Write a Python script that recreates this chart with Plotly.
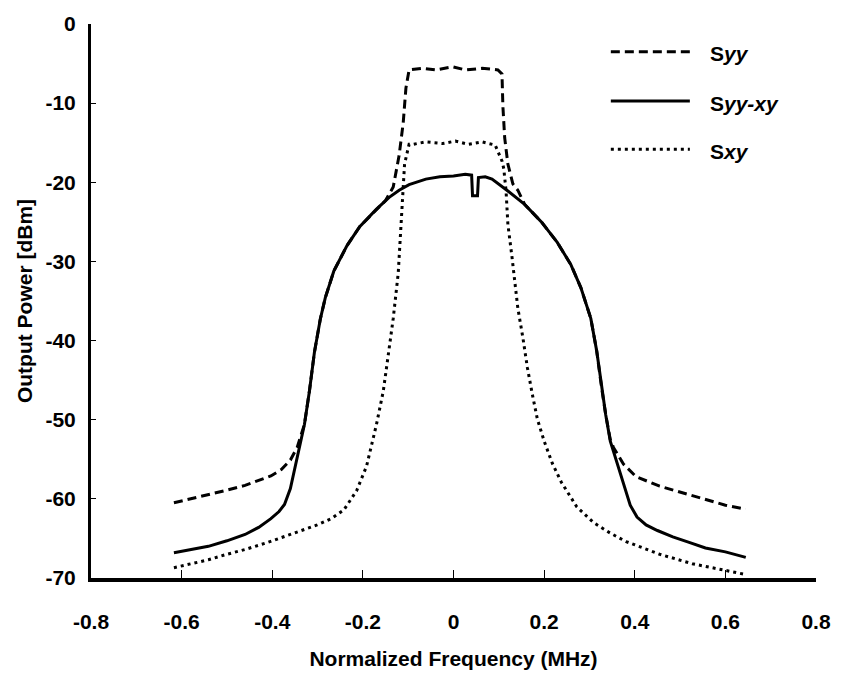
import plotly.graph_objects as go

# ---- spectra (normalized frequency in MHz, power in dBm) ----
syy_f = [-0.617, -0.58, -0.541, -0.50, -0.460, -0.43, -0.403, -0.38, -0.36, -0.345,
         -0.329, -0.318, -0.307, -0.294, -0.283, -0.264, -0.235, -0.207, -0.170, -0.150,
         -0.133, -0.120, -0.111, -0.105, -0.098, -0.068, -0.039, -0.002, 0.026, 0.063,
         0.098, 0.107, 0.109, 0.113, 0.120, 0.131, 0.142, 0.157, 0.194, 0.229,
         0.259, 0.281, 0.303, 0.316, 0.327, 0.336, 0.346, 0.353, 0.375, 0.403,
         0.455, 0.527, 0.600, 0.645]
syy_p = [-60.5, -60.0, -59.5, -58.9, -58.3, -57.7, -57.1, -56.3, -55.1, -53.5,
         -50.6, -46.4, -41.5, -37.3, -34.6, -31.2, -28.0, -25.6, -23.4, -22.3,
         -20.6, -16.6, -12.5, -8.1, -5.8, -5.6, -5.8, -5.4, -5.8, -5.6,
         -5.8, -6.3, -10.4, -14.4, -17.7, -20.2, -21.0, -22.8, -25.0, -27.6,
         -30.4, -33.3, -37.2, -41.3, -46.0, -49.4, -52.5, -53.5, -55.6, -57.2,
         -58.4, -59.6, -60.8, -61.3]

syyxy_f = [-0.617, -0.58, -0.541, -0.50, -0.460, -0.43, -0.403, -0.385, -0.373, -0.360,
           -0.345, -0.329, -0.318, -0.307, -0.294, -0.283, -0.264, -0.235, -0.207, -0.170,
           -0.142, -0.12, -0.098, -0.061, -0.03, 0.0, 0.026, 0.040, 0.042, 0.053,
           0.055, 0.07, 0.085, 0.10, 0.120, 0.157, 0.194, 0.229, 0.259, 0.281,
           0.303, 0.316, 0.327, 0.336, 0.346, 0.368, 0.390, 0.405, 0.425, 0.45,
           0.484, 0.52, 0.556, 0.60, 0.645]
syyxy_p = [-66.8, -66.4, -66.0, -65.3, -64.5, -63.6, -62.5, -61.6, -60.7, -58.7,
           -54.7, -50.6, -46.4, -41.5, -37.3, -34.6, -31.2, -28.0, -25.6, -23.4,
           -21.9, -21.0, -20.3, -19.6, -19.3, -19.2, -19.0, -19.1, -21.7, -21.7,
           -19.4, -19.3, -19.6, -20.2, -21.1, -22.8, -25.0, -27.6, -30.4, -33.3,
           -37.2, -41.3, -46.0, -49.4, -52.7, -56.6, -60.8, -62.3, -63.3, -64.0,
           -64.8, -65.5, -66.2, -66.7, -67.4]

sxy_f = [-0.617, -0.58, -0.541, -0.50, -0.460, -0.41, -0.360, -0.301, -0.27, -0.242,
         -0.214, -0.192, -0.170, -0.155, -0.148, -0.133, -0.122, -0.116, -0.111, -0.108,
         -0.098, -0.089, -0.061, -0.024, 0.004, 0.033, 0.063, 0.092, 0.107, 0.111,
         0.116, 0.120, 0.129, 0.135, 0.142, 0.153, 0.163, 0.174, 0.185, 0.200,
         0.218, 0.238, 0.272, 0.309, 0.345, 0.381, 0.455, 0.527, 0.58, 0.640]
sxy_p = [-68.7, -68.2, -67.7, -67.0, -66.4, -65.5, -64.5, -63.3, -62.5, -61.4,
         -59.0, -55.9, -50.6, -46.4, -43.5, -37.2, -31.5, -26.1, -21.1, -17.7,
         -15.2, -15.2, -14.9, -15.1, -14.8, -15.2, -14.9, -15.3, -17.3, -18.3,
         -21.1, -25.3, -29.4, -32.7, -35.9, -39.6, -43.4, -46.8, -49.9, -52.7,
         -55.5, -57.9, -61.0, -63.0, -64.3, -65.4, -67.0, -68.2, -68.8, -69.5]

x_ticks = [-0.8, -0.6, -0.4, -0.2, 0, 0.2, 0.4, 0.6, 0.8]
x_tick_text = ["-0.8", "-0.6", "-0.4", "-0.2", "0", "0.2", "0.4", "0.6", "0.8"]
y_ticks = [0, -10, -20, -30, -40, -50, -60, -70]
y_tick_text = ["0", "-10", "-20", "-30", "-40", "-50", "-60", "-70"]

series_names = ["S<i>yy</i>", "S<i>yy-xy</i>", "S<i>xy</i>"]

FONT = "Liberation Sans, Arial, sans-serif"
FSIZE = 21
DASHES = ["9px,5px", "solid", "3px,4px"]

fig = go.Figure()
for (fx, py), dash in zip([(syy_f, syy_p), (syyxy_f, syyxy_p), (sxy_f, sxy_p)], DASHES):
    fig.add_trace(go.Scatter(
        x=fx, y=py, mode="lines", showlegend=False,
        line=dict(color="black", width=3, dash=dash),
    ))

# legend: line samples plus labels, placed in the upper right of the plot area
legend_rows = [0.950, 0.861, 0.774]
for name, dash, ry in zip(series_names, DASHES, legend_rows):
    fig.add_shape(type="line", xref="paper", yref="paper",
                  x0=0.717, x1=0.826, y0=ry, y1=ry,
                  line=dict(color="black", width=3, dash=dash))
    fig.add_annotation(xref="paper", yref="paper", x=0.851, y=ry - 0.004,
                       xanchor="left", yanchor="middle", showarrow=False,
                       text=name,
                       font=dict(family=FONT, size=FSIZE, color="black", weight="bold"))

axis_common = dict(
    showgrid=False, zeroline=False, showline=True, linecolor="black",
    ticks="inside", tickcolor="black", tickwidth=1,
    tickfont=dict(family=FONT, size=FSIZE, color="black", weight="bold"),
    title_font=dict(family=FONT, size=FSIZE, color="black", weight="bold"),
)

fig.update_xaxes(
    range=[-0.8, 0.8], tickvals=x_ticks, ticktext=x_tick_text,
    linewidth=4, ticklen=8, ticklabelstandoff=22,
    title_text="Normalized Frequency (MHz)", title_standoff=20,
    **axis_common,
)
fig.update_yaxes(
    range=[-70, 0], tickvals=y_ticks, ticktext=y_tick_text,
    linewidth=3, ticklen=5, ticklabelstandoff=8,
    title_text="Output Power [dBm]", title_standoff=8,
    **axis_common,
)

fig.update_layout(
    width=843, height=684,
    margin=dict(l=91, r=18, t=15, b=106),
    plot_bgcolor="white", paper_bgcolor="white",
)

fig.write_html("out.html")
